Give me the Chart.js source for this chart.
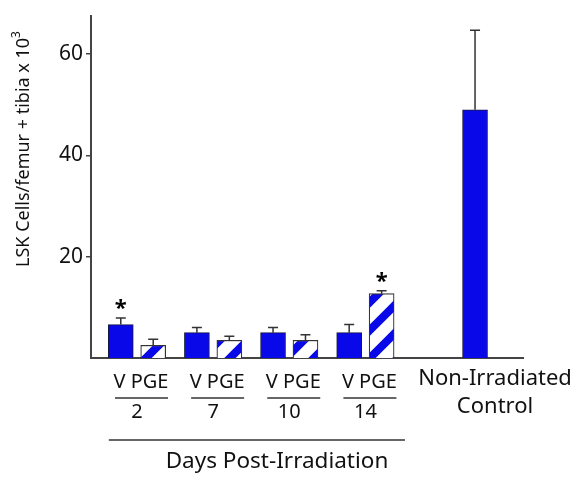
<!DOCTYPE html>
<html>
<head>
<meta charset="utf-8">
<script src="https://cdn.jsdelivr.net/npm/chart.js@4.4.0/dist/chart.umd.min.js"></script>
<style>
body{margin:0;background:#fff;}
</style>
</head>
<body>
<canvas id="chart" width="577" height="479"></canvas>
<script>
// values
var days = ['2', '7', '10', '14'];
var vehicleMeans = [6.6, 5.0, 5.0, 5.0];
var vehicleErr = [1.3, 1.0, 1.0, 1.6];
var pgeMeans = [2.5, 3.5, 3.5, 12.7];
var pgeErr = [1.2, 0.8, 1.1, 0.6];
var vehicleStar = [true, false, false, false];
var pgeStar = [false, false, false, true];
var controlLabel = ['Non-Irradiated', 'Control'];
var controlMean = [49.0];
var controlErr = [15.7];
var yTicks = [20, 40, 60];
var pairLabel = 'V PGE';
var xTitle = 'Days Post-Irradiation';
var yTitle = 'LSK Cells/femur + tibia x 10';

var FONT = '"Noto Sans", sans-serif';
var BLUE = 'rgb(8,8,232)';

function hatch(){
	var n = 28;
	var c = document.createElement('canvas');
	c.width = n; c.height = n;
	var g = c.getContext('2d');
	g.fillStyle = '#fff';
	g.fillRect(0, 0, n, n);
	g.strokeStyle = BLUE;
	g.lineWidth = 8;
	g.beginPath();
	g.moveTo(-6, 6); g.lineTo(6, -6);
	g.moveTo(0, n); g.lineTo(n, 0);
	g.moveTo(n - 6, n + 6); g.lineTo(n + 6, n - 6);
	g.stroke();
	return document.getElementById('chart').getContext('2d').createPattern(c, 'repeat');
}

var OFF = 0.213, CTRL = 4.44;
var vData = vehicleMeans.map(function(v, i){ return {x: i - OFF, y: v}; });
var pData = pgeMeans.map(function(v, i){ return {x: i + OFF, y: v}; });
var cData = controlMean.map(function(v){ return {x: CTRL, y: v}; });
var errs = [vehicleErr, pgeErr, controlErr];
var stars = [vehicleStar, pgeStar, [false]];

var extras = {
	id: 'extras',
	afterDatasetsDraw: function(chart){
		var ctx = chart.ctx, y = chart.scales.y;
		ctx.save();
		chart.data.datasets.forEach(function(ds, d){
			chart.getDatasetMeta(d).data.forEach(function(bar, i){
				var top = y.getPixelForValue(ds.data[i].y + errs[d][i]);
				ctx.strokeStyle = '#333';
				ctx.lineWidth = 1.5;
				ctx.beginPath();
				ctx.moveTo(bar.x, bar.y);
				ctx.lineTo(bar.x, top);
				ctx.moveTo(bar.x - 5, top);
				ctx.lineTo(bar.x + 5, top);
				ctx.stroke();
				if (stars[d][i]) {
					ctx.fillStyle = '#000';
					ctx.font = 'bold 22px ' + FONT;
					ctx.textAlign = 'center';
					ctx.textBaseline = 'middle';
					ctx.fillText('*', bar.x, top - 9);
				}
			});
		});
		ctx.restore();
	},
	afterDraw: function(chart){
		var ctx = chart.ctx, x = chart.scales.x;
		ctx.save();
		ctx.fillStyle = '#111';
		ctx.strokeStyle = '#333';
		ctx.textAlign = 'center';
		ctx.textBaseline = 'middle';
		ctx.font = '20px ' + FONT;
		days.forEach(function(dy, i){
			var c = x.getPixelForValue(i);
			ctx.fillText(pairLabel, c + 4, 382);
			ctx.lineWidth = 1.5;
			ctx.beginPath();
			ctx.moveTo(c - 22, 398); ctx.lineTo(c + 31, 398);
			ctx.stroke();
			ctx.fillText(dy, c, 412);
		});
		var cc = x.getPixelForValue(CTRL);
		ctx.font = '22px ' + FONT;
		ctx.fillText(controlLabel[0], cc + 20, 379);
		ctx.fillText(controlLabel[1], cc + 20, 407);
		var l = x.getPixelForValue(-0.37), r = x.getPixelForValue(3.52);
		ctx.lineWidth = 1.5;
		ctx.beginPath();
		ctx.moveTo(l, 440); ctx.lineTo(r, 440);
		ctx.stroke();
		ctx.font = '22.5px ' + FONT;
		ctx.fillText(xTitle, 277, 462);
		// y title with superscript
		ctx.translate(24, 149);
		ctx.rotate(-Math.PI / 2);
		ctx.font = '18px ' + FONT;
		var w = ctx.measureText(yTitle).width;
		ctx.font = '12px ' + FONT;
		var w3 = ctx.measureText('3').width;
		var start = -(w + w3) / 2;
		ctx.textAlign = 'left';
		ctx.font = '18px ' + FONT;
		ctx.fillText(yTitle, start, 0);
		ctx.font = '12px ' + FONT;
		ctx.fillText('3', start + w, -7);
		ctx.restore();
	}
};

new Chart(document.getElementById('chart'), {
	type: 'bar',
	data: {
		datasets: [
			{label: 'V', data: vData, backgroundColor: BLUE, borderColor: '#1a1a40', borderWidth: 1, barThickness: 25},
			{label: 'PGE', data: pData, backgroundColor: hatch(), borderColor: '#333', borderWidth: 1.2, barThickness: 25},
			{label: 'Control', data: cData, backgroundColor: BLUE, borderColor: '#1a1a40', borderWidth: 1, barThickness: 25}
		]
	},
	options: {
		responsive: false,
		animation: false,
		grouped: false,
		layout: {padding: {top: 8, right: 54, left: 0, bottom: 0}},
		plugins: {legend: {display: false}, tooltip: {enabled: false}},
		scales: {
			x: {
				type: 'linear',
				offset: false,
				min: -0.604,
				max: 5.07,
				grid: {display: false},
				ticks: {display: false},
				border: {color: '#444', width: 2},
				afterFit: function(s){ s.height = 121; }
			},
			y: {
				min: 0,
				max: 67.6,
				afterBuildTicks: function(s){ s.ticks = yTicks.map(function(v){ return {value: v}; }); },
				grid: {drawOnChartArea: false, tickLength: 5, color: '#444', lineWidth: 1.5},
				border: {color: '#444', width: 2},
				ticks: {color: '#111', font: {family: FONT, size: 21}, padding: 3},
				afterFit: function(s){ s.width = 91; }
			}
		}
	},
	plugins: [extras]
});
</script>
</body>
</html>
